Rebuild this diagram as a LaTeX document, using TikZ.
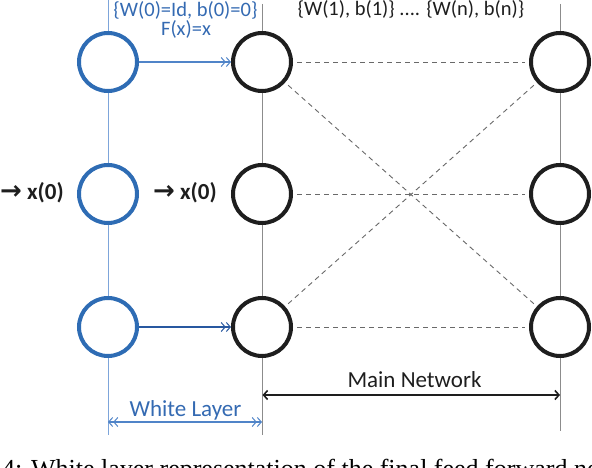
\documentclass[tikz,border=0pt]{standalone}
\usepackage{fontspec}
\setmainfont{Carlito}
\newfontfamily\capfont{Liberation Serif}
\newfontfamily\arrfont{DejaVu Sans}
\usetikzlibrary{arrows.meta}
\definecolor{blueC}{RGB}{46,108,180}
\definecolor{blueL}{RGB}{125,165,218}
\definecolor{blueA}{RGB}{80,132,200}
\definecolor{blueB}{RGB}{40,88,160}
\definecolor{blueT}{RGB}{52,106,178}
\definecolor{grayL}{RGB}{140,140,140}
\definecolor{dashC}{RGB}{105,105,105}
\definecolor{blk}{RGB}{30,30,30}
\tikzset{
  x=1pt, y=-1pt,
  neuron/.style={circle, minimum size=58pt, inner sep=0pt, line width=4pt, fill=white},
  wneuron/.style={neuron, draw=blueC},
  mneuron/.style={neuron, draw=blk},
  vline/.style={line width=1pt},
  dashconn/.style={dashed, dash pattern=on 5pt off 4pt, draw=dashC, line width=0.9pt, shorten <=4pt, shorten >=4pt},
  dchev/.tip={Straight Barb[length=4pt,width=9pt,line width=1pt] Straight Barb[length=4pt,width=9pt,line width=1pt]},
  idarrow/.style={line width=1.1pt, -dchev},
  lbl/.style={font=\fontsize{20.5}{24}\selectfont, anchor=base, inner sep=0pt},
  biglbl/.style={font=\fontsize{23}{27}\selectfont, anchor=base, inner sep=0pt},
  inlbl/.style={font=\fontsize{23}{27}\selectfont\bfseries, anchor=base west, inner sep=0pt, text=blk},
}
\begin{document}
\begin{tikzpicture}
\useasboundingbox (0,0) rectangle (592,468);
% vertical guide lines
\coordinate (v1t) at (108,0);   \coordinate (v1b) at (108,435);
\coordinate (v2t) at (262,4);   \coordinate (v2b) at (262,435);
\coordinate (v3t) at (560,4);   \coordinate (v3b) at (560,431);
\draw[vline, blueL] (v1t) -- (v1b);
\draw[vline, grayL] (v2t) -- (v2b);
\draw[vline, grayL] (v3t) -- (v3b);
% neurons
\node[wneuron] (w1) at (108,62) {};
\node[wneuron] (w2) at (108,194) {};
\node[wneuron] (w3) at (108,327) {};
\node[mneuron] (a1) at (262,62) {};
\node[mneuron] (a2) at (262,194) {};
\node[mneuron] (a3) at (262,327) {};
\node[mneuron] (b1) at (560,62) {};
\node[mneuron] (b2) at (560,194) {};
\node[mneuron] (b3) at (560,327) {};
% identity connections
\draw[idarrow, blueA] (w1) -- (a1);
\draw[idarrow, blueB] (w3) -- (a3);
% dashed main connections
\draw[dashconn] (a1) -- (b1);
\draw[dashconn] (a2) -- (b2);
\draw[dashconn] (a3) -- (b3);
\draw[dashconn] (a1) -- (b3);
\draw[dashconn] (a3) -- (b1);
% labels at top
\node[lbl, text=blueT] (t0) at (185.5,17) {\{W(0)=Id, b(0)=0\}};
\node[lbl, text=blueT] (t0b) at (186,36) {F(x)=x};
\node[lbl, text=blk] (t1) at (411,16) {\{W(1), b(1)\} .... \{W(n), b(n)\}};
% inputs
\node[inlbl] (x1) at (0,200) {{\arrfont\bfseries\fontsize{26}{27}\selectfont →} x(0)};
\node[inlbl] (x2) at (153,200) {{\arrfont\bfseries\fontsize{26}{27}\selectfont →} x(0)};
% spans
\coordinate (m1) at (262.5,395); \coordinate (m2) at (560,395);
\draw[line width=1.6pt, blk, {Straight Barb[length=4pt,width=9pt]}-{Straight Barb[length=4pt,width=9pt]}] (m1) -- (m2);
\node[biglbl, text=blk] (mn) at (414.5,387) {Main Network};
\coordinate (s1) at (108,422); \coordinate (s2) at (262,422);
\draw[line width=1.1pt, blueA, dchev-dchev] (s1) -- (s2);
\node[biglbl, text=blueT] (wl) at (185.5,416) {White Layer};
% cut-off caption (only its top shows in the reference)
\begin{scope}
\clip (0,0) rectangle (592,468);
\node[anchor=base west, inner sep=0pt, font=\capfont\fontsize{26}{30}\selectfont, text=black] (cap) at (2,477) {4: White layer representation of the final feed forward network};
\end{scope}
\end{tikzpicture}
\end{document}
